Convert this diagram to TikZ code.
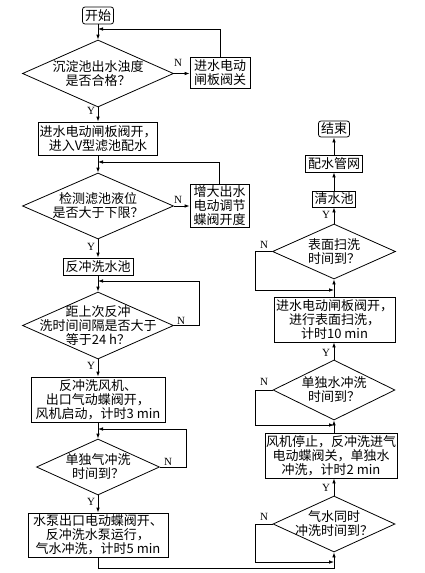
\documentclass[tikz,border=0pt]{standalone}
\usepackage{fontspec}
\setmainfont{Liberation Serif}
\newfontfamily\cjk{Noto Sans CJK SC}
\usetikzlibrary{arrows.meta,shapes.geometric}
\begin{document}
\begin{tikzpicture}[x=1pt,y=-1pt,
  line width=0.8pt,
  box/.style={draw, inner sep=0pt, align=center, font=\cjk\fontsize{13}{14}\selectfont},
  term/.style={box, rounded corners=2.5pt},
  dia/.style={draw, diamond, inner sep=0pt},
  dtext/.style={align=center, inner sep=0pt, font=\cjk\fontsize{13}{14}\selectfont},
  lbl/.style={inner sep=0pt, font=\fontsize{11}{11}\selectfont},
  arr/.style={-{Latex[length=5pt,width=3.6pt]}},
]
\useasboundingbox (0,0) rectangle (425,573);

% ---------- left column ----------
\node[term, minimum width=31pt, minimum height=17pt] (start) at (98,15.5) {开始};

\node[dia, minimum width=151pt, minimum height=67pt] (d1) at (98,73.5) {};
\node[dtext] (t1) at (d1) {沉淀池出水浊度\\是否合格？};
\node[box, minimum width=60pt, minimum height=31pt] (r1) at (220,72.5) {进水电动\\闸板阀关};

\node[box, minimum width=119pt, minimum height=33pt] (b2) at (98,138.5) {进水电动闸板阀开，\\进入V型滤池配水};

\node[dia, minimum width=151pt, minimum height=66pt] (d2) at (98,206) {};
\node[dtext] (t2) at (d2) {检测滤池液位\\是否大于下限？};
\node[box, minimum width=59pt, minimum height=43pt] (r2) at (219.5,205.5) {增大出水\\电动调节\\蝶阀开度};

\node[box, minimum width=70pt, minimum height=17pt] (b3) at (98,266.5) {反冲洗水池};

\node[dia, minimum width=151pt, minimum height=67pt] (d3) at (98,325.5) {};
\node[dtext] (t3) at (d3) {距上次反冲\\洗时间间隔是否大于\\等于24 h？};

\node[box, minimum width=134pt, minimum height=45pt] (b4) at (98,399.5) {反冲洗风机、\\出口气动蝶阀开，\\风机启动，计时3 min};

\node[dia, minimum width=123pt, minimum height=56pt] (d4) at (98,467) {};
\node[dtext] (t4) at (d4) {单独气冲洗\\时间到？};

\node[box, minimum width=140pt, minimum height=44pt] (b5) at (98,535) {水泵出口电动蝶阀开、\\反冲洗水泵运行，\\气水冲洗，计时5 min};

% ---------- right column ----------
\node[term, minimum width=31pt, minimum height=16pt] (end) at (334,129) {结束};
\node[box, minimum width=57pt, minimum height=17pt] (net) at (334,163.5) {配水管网};
\node[box, minimum width=43pt, minimum height=16pt] (clear) at (334,199) {清水池};

\node[dia, minimum width=123pt, minimum height=55pt] (d5) at (334,251.5) {};
\node[dtext] (t5) at (d5) {表面扫洗\\时间到？};

\node[box, minimum width=121pt, minimum height=45pt] (b6) at (334.5,319.5) {进水电动闸板阀开，\\进行表面扫洗，\\计时10 min};

\node[dia, minimum width=122pt, minimum height=60pt] (d6) at (334,390) {};
\node[dtext] (t6) at (d6) {单独水冲洗\\时间到？};

\node[box, minimum width=132pt, minimum height=45pt] (b7) at (331,455.5) {风机停止，反冲洗进气\\电动蝶阀关，单独水\\冲洗，计时2 min};

\node[dia, minimum width=122pt, minimum height=56pt] (d7) at (334,524) {};
\node[dtext] (t7) at (d7) {气水同时\\冲洗时间到？};

% ---------- junction points ----------
\coordinate (j1) at (98,29);
\coordinate (j2) at (98,162);
\coordinate (j3) at (98,281);
\coordinate (j4) at (98,429);
\coordinate (j5) at (334,290);
\coordinate (j6) at (334,425);
\coordinate (j7) at (334,562);

% ---------- connectors left ----------
\draw[arr] (start) -- (d1.north);
\draw[arr] (d1.east) -- (d1.east -| r1.west);
\draw[arr] (r1.north) |- (j1);
\draw[arr] (d1.south) -- (b2.north);
\draw[arr] (b2) -- (d2.north);
\draw[arr] (d2.east) -- (d2.east -| r2.west);
\draw[arr] (r2.north) |- (j2);
\draw[arr] (d2.south) -- (b3.north);
\draw[arr] (b3) -- (d3.north);
\draw[arr] (d3.east) -- ++(25,0) |- (j3);
\draw[arr] (d3.south) -- (b4.north);
\draw[arr] (b4) -- (d4.north);
\draw[arr] (d4.east) -- ++(26,0) |- (j4);
\draw[arr] (d4.south) -- (b5.north);
\draw[arr] (b5.south) -- ++(0,11) -| (d7.south);

% ---------- connectors right ----------
\draw[arr] (d7.west) -- ++(-17,0) |- (j7);
\draw[arr] (d7.north) -- (d7.north |- b7.south);
\draw[arr] (d6.south |- b7.north) -- (d6.south);
\draw[arr] (d6.west) -- ++(-17,0) |- (j6);
\draw[arr] (d6.north) -- (d6.north |- b6.south);
\draw[arr] (d5.south |- b6.north) -- (d5.south);
\draw[arr] (d5.west) -- ++(-17,0) |- (j5);
\draw[arr] (d5.north) -- (clear.south);
\draw[arr] (clear) -- (net);
\draw[arr] (net) -- (end);

% ---------- labels ----------
\node[lbl] (n1) at (178,63) {N};
\node[lbl] (y1) at (91,111) {Y};
\node[lbl] (n2) at (178,200) {N};
\node[lbl] (y2) at (91,247) {Y};
\node[lbl] (n3) at (181,321) {N};
\node[lbl] (y3) at (91,366) {Y};
\node[lbl] (n4) at (168,462) {N};
\node[lbl] (y4) at (91,502) {Y};
\node[lbl] (y5) at (326,215) {Y};
\node[lbl] (n5) at (264,245) {N};
\node[lbl] (y6) at (326,353) {Y};
\node[lbl] (n6) at (264,382) {N};
\node[lbl] (y7) at (326,488) {Y};
\node[lbl] (n7) at (264,517) {N};
\end{tikzpicture}
\end{document}
